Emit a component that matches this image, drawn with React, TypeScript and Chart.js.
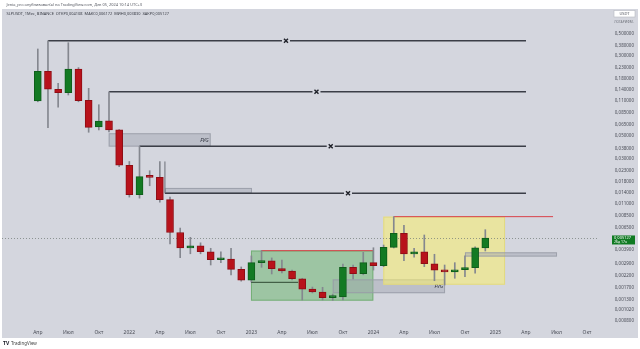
import React, { useEffect, useRef } from "react";
import { Chart, registerables } from "chart.js";

Chart.register(...registerables);

// ---- DATA ----
const monthLabels = [
  "Апр 2021", "Май 2021", "Июн 2021", "Июл 2021", "Авг 2021", "Сен 2021", "Окт 2021", "Ноя 2021", "Дек 2021",
  "Янв 2022", "Фев 2022", "Мар 2022", "Апр 2022", "Май 2022", "Июн 2022", "Июл 2022", "Авг 2022", "Сен 2022",
  "Окт 2022", "Ноя 2022", "Дек 2022", "Янв 2023", "Фев 2023", "Мар 2023", "Апр 2023", "Май 2023", "Июн 2023",
  "Июл 2023", "Авг 2023", "Сен 2023", "Окт 2023", "Ноя 2023", "Дек 2023", "Янв 2024", "Фев 2024", "Мар 2024",
  "Апр 2024", "Май 2024", "Июн 2024", "Июл 2024", "Авг 2024", "Сен 2024", "Окт 2024", "Ноя 2024", "Дек 2024",
];

const openP = [
  0.110, 0.214, 0.143, 0.1323, 0.2249, 0.1117, 0.0614, 0.0707, 0.0575,
  0.0261, 0.0135, 0.0202, 0.0199, 0.0121, 0.0058, 0.0041, 0.00429, 0.00377,
  0.00315, 0.0032, 0.00254, 0.00199, 0.00295, 0.00308, 0.00258, 0.00245, 0.00206,
  0.00163, 0.00153, 0.00135, 0.00137, 0.00266, 0.0023, 0.00295, 0.00276, 0.00416,
  0.00569, 0.00358, 0.00375, 0.00288, 0.0025, 0.0024, 0.00252, 0.00264, 0.004108,
];
const highP = [
  0.352, 0.4236, 0.1633, 0.405, 0.232, 0.146, 0.1011, 0.1353, 0.058,
  0.0284, 0.0399, 0.0231, 0.0284, 0.0128, 0.0064, 0.0052, 0.0046, 0.00407,
  0.00377, 0.00407, 0.00268, 0.00343, 0.00386, 0.00328, 0.00313, 0.0025, 0.00208,
  0.00171, 0.0017, 0.00146, 0.00286, 0.0028, 0.00372, 0.00412, 0.00438, 0.00826,
  0.0068, 0.00407, 0.00548, 0.00356, 0.0028, 0.00295, 0.00343, 0.0042, 0.006172,
];
const lowP = [
  0.108, 0.0605, 0.0955, 0.1257, 0.108, 0.0546, 0.0575, 0.055, 0.0253,
  0.0128, 0.0125, 0.0165, 0.0114, 0.0045, 0.0033, 0.0036, 0.0036, 0.0028,
  0.00295, 0.00224, 0.00195, 0.00192, 0.00266, 0.00229, 0.00235, 0.002, 0.00128,
  0.0015, 0.00128, 0.00127, 0.00128, 0.00205, 0.00225, 0.0025, 0.0027, 0.0041,
  0.00308, 0.00333, 0.0027, 0.00197, 0.00179, 0.00208, 0.00216, 0.00233, 0.00383,
];
const closeP = [
  0.214, 0.143, 0.1323, 0.2249, 0.1107, 0.061, 0.0702, 0.0575, 0.0262,
  0.0135, 0.0202, 0.0199, 0.0121, 0.0058, 0.0041, 0.00429, 0.00377, 0.00315,
  0.0032, 0.00254, 0.00199, 0.00295, 0.00308, 0.00258, 0.00245, 0.00206, 0.00163,
  0.00153, 0.00135, 0.00137, 0.00266, 0.0023, 0.00295, 0.00276, 0.00416, 0.00569,
  0.00358, 0.00375, 0.00288, 0.0025, 0.0024, 0.00252, 0.00264, 0.004108, 0.005127,
];

const yTickValues = [
  0.5, 0.38, 0.3, 0.23, 0.18, 0.14, 0.11, 0.085, 0.065, 0.05, 0.038, 0.03, 0.023, 0.018,
  0.014, 0.011, 0.0085, 0.0065, 0.0039, 0.0029, 0.0022, 0.0017, 0.0013, 0.00102, 0.0008,
];
const xTickMonths = [0, 3, 6, 9, 12, 15, 18, 21, 24, 27, 30, 33, 36, 39, 42, 45, 48, 51, 54];
const xTickLabels = [
  "Апр", "Июл", "Окт", "2022", "Апр", "Июл", "Окт", "2023", "Апр", "Июл", "Окт", "2024",
  "Апр", "Июл", "Окт", "2025", "Апр", "Июл", "Окт",
];

// horizontal levels (price, start month, cross month)
const levelPrices = [0.4236, 0.1353, 0.0399, 0.01393];
const levelStart = [1, 7, 10, 12.5];
const levelEnd = [48, 48, 48, 48];
const levelCross = [24.4, 27.4, 28.8, 30.5];

// zones
const zoneFrom = [6.97, 12.5, 20.96, 29.0, 33.97, 42.0];
const zoneTo = [17.0, 21.06, 32.99, 40.04, 45.94, 51.05];
const zoneTop = [0.0534, 0.0157, 0.00387, 0.00203, 0.00826, 0.00372];
const zoneBottom = [0.0396, 0.01393, 0.00126, 0.00149, 0.0018, 0.00338];
const zoneText = ["FVG", "", "", "FVG", "", ""];

// red lines on top of zones
const redLineFrom = [21.96, 35];
const redLineTo = [32.99, 50.66];
const redLinePrice = [0.00386, 0.00826];

// dark line inside range box
const darkLineFrom = [20.96];
const darkLineTo = [25.6];
const darkLinePrice = [0.0019];

const lastPrice = 0.005127;

// ---- STYLES ----
const BG = "#d4d6de";
const GREEN = "#137a23";
const GREEN_B = "#0e5e1a";
const RED = "#b8121b";
const RED_B = "#8f0d14";
const WICK = "#84878f";
const zoneFill = [
  "rgba(160,164,175,0.45)",
  "rgba(160,164,175,0.45)",
  "rgba(80,175,80,0.42)",
  "rgba(160,164,175,0.45)",
  "rgba(250,240,110,0.55)",
  "rgba(160,164,175,0.45)",
];
const zoneStroke = [
  "rgba(150,154,165,0.8)",
  "rgba(150,154,165,0.8)",
  "rgba(90,160,90,0.6)",
  "rgba(150,154,165,0.8)",
  "rgba(225,215,120,0.8)",
  "rgba(150,154,165,0.8)",
];

const FONT = "'Noto Sans', 'Liberation Sans', sans-serif";

function fitText(ctx: CanvasRenderingContext2D, text: string, x: number, y: number, w: number, color: string, weight = "normal") {
  ctx.font = `${weight} 10px ${FONT}`;
  const mw = ctx.measureText(text).width;
  const size = (10 * w) / mw;
  ctx.font = `${weight} ${size}px ${FONT}`;
  ctx.fillStyle = color;
  ctx.textAlign = "left";
  ctx.textBaseline = "middle";
  ctx.fillText(text, x, y);
}

const fmt = (v: number) => v.toFixed(6).replace(".", ",");

const overlay = {
  id: "overlay",
  beforeDraw(chart: any) {
    const ctx = chart.ctx as CanvasRenderingContext2D;
    ctx.save();
    ctx.fillStyle = "#ffffff";
    ctx.fillRect(0, 0, chart.width, chart.height);
    ctx.fillStyle = BG;
    ctx.fillRect(2, 9, 636, 329);
    ctx.restore();
  },
  beforeDatasetsDraw(chart: any) {
    const ctx = chart.ctx as CanvasRenderingContext2D;
    const xs = chart.scales.x;
    const ys = chart.scales.y;
    const px = (m: number) => xs.getPixelForValue(m);
    const py = (p: number) => ys.getPixelForValue(p);
    ctx.save();
    // zones
    zoneFrom.forEach((f, i) => {
      const x0 = px(f), x1 = px(zoneTo[i]);
      const y0 = py(zoneTop[i]), y1 = py(zoneBottom[i]);
      ctx.fillStyle = zoneFill[i];
      ctx.fillRect(x0, y0, x1 - x0, y1 - y0);
      ctx.strokeStyle = zoneStroke[i];
      ctx.lineWidth = 1;
      ctx.strokeRect(x0 + 0.5, y0 + 0.5, x1 - x0 - 1, y1 - y0 - 1);
      if (zoneText[i]) {
        ctx.font = `italic 5px ${FONT}`;
        ctx.fillStyle = "#2a2e39";
        ctx.textAlign = "right";
        ctx.textBaseline = "middle";
        ctx.fillText(zoneText[i], x1 - 2, (y0 + y1) / 2 + 0.5);
      }
    });
    // dotted last price line
    ctx.strokeStyle = "rgba(110,120,115,0.7)";
    ctx.setLineDash([1, 2]);
    ctx.lineWidth = 1;
    const yl = Math.round(py(lastPrice)) + 0.5;
    ctx.beginPath();
    ctx.moveTo(2, yl);
    ctx.lineTo(chart.chartArea.right, yl);
    ctx.stroke();
    ctx.setLineDash([]);
    // level lines
    levelPrices.forEach((p, i) => {
      const y = py(p);
      const x0 = px(levelStart[i]);
      ctx.strokeStyle = "#3b3e47";
      ctx.lineWidth = 1.5;
      ctx.beginPath();
      ctx.moveTo(x0, y);
      ctx.lineTo(px(levelEnd[i]), y);
      ctx.stroke();
      ctx.lineWidth = 1;
      ctx.strokeStyle = "#6a6d76";
      ctx.beginPath();
      ctx.moveTo(x0, y);
      ctx.lineTo(x0, py(highP[Math.floor(levelStart[i])]));
      ctx.stroke();
    });
    // red lines
    ctx.strokeStyle = "#d9434a";
    ctx.lineWidth = 1;
    redLinePrice.forEach((p, i) => {
      const y = py(p);
      ctx.beginPath();
      ctx.moveTo(px(redLineFrom[i]), y);
      ctx.lineTo(px(redLineTo[i]), y);
      ctx.stroke();
    });
    ctx.strokeStyle = "#2f4a33";
    darkLinePrice.forEach((p, i) => {
      const y = py(p);
      ctx.beginPath();
      ctx.moveTo(px(darkLineFrom[i]), y);
      ctx.lineTo(px(darkLineTo[i]), y);
      ctx.stroke();
    });
    ctx.restore();
  },
  afterDatasetsDraw(chart: any) {
    const ctx = chart.ctx as CanvasRenderingContext2D;
    const xs = chart.scales.x;
    const ys = chart.scales.y;
    ctx.save();
    // crosses
    levelPrices.forEach((p, i) => {
      const x = xs.getPixelForValue(levelCross[i]);
      const y = ys.getPixelForValue(p);
      ctx.fillStyle = BG;
      ctx.fillRect(x - 4, y - 3, 8, 6);
      ctx.strokeStyle = "#1e2028";
      ctx.lineWidth = 1.4;
      ctx.beginPath();
      ctx.moveTo(x - 2, y - 2);
      ctx.lineTo(x + 2, y + 2);
      ctx.moveTo(x + 2, y - 2);
      ctx.lineTo(x - 2, y + 2);
      ctx.stroke();
    });
    // last price label
    const yl = ys.getPixelForValue(lastPrice);
    ctx.fillStyle = "#0f7a22";
    ctx.fillRect(612, yl - 2.5, 23, 9);
    ctx.fillStyle = "#ffffff";
    ctx.textAlign = "left";
    ctx.textBaseline = "middle";
    ctx.font = `4px ${FONT}`;
    ctx.fillText(fmt(lastPrice), 614, yl);
    ctx.font = `3.5px ${FONT}`;
    ctx.fillText("26д 17ч", 614, yl + 4);
    ctx.restore();
  },
  afterDraw(chart: any) {
    const ctx = chart.ctx as CanvasRenderingContext2D;
    ctx.save();
    fitText(ctx, "Jenia_pro опубликовал(а) на TradingView.com, Дек 05, 2024 10:14 UTC+3", 6.5, 4.8, 136, "#555861");
    fitText(ctx, "SLPUSDT, 1Мес, BINANCE  ОТКР0,004108  МАКС0,006172  МИН0,003830  ЗАКР0,005127", 6.5, 14.3, 163, "#3a3d46");
    // USDT box
    ctx.fillStyle = "#ffffff";
    ctx.fillRect(614, 10.5, 21, 6.5);
    ctx.strokeStyle = "#b5b8c0";
    ctx.lineWidth = 0.6;
    ctx.strokeRect(614, 10.5, 21, 6.5);
    ctx.fillStyle = "#555861";
    ctx.font = `4px ${FONT}`;
    ctx.textAlign = "center";
    ctx.textBaseline = "middle";
    ctx.fillText("USDT", 624.5, 13.9);
    ctx.fillStyle = "#70737c";
    ctx.font = `3.3px ${FONT}`;
    ctx.fillText("ЛОГАРИФМ.", 624, 22);
    // TradingView logo
    ctx.fillStyle = "#131722";
    ctx.font = `bold 5px ${FONT}`;
    ctx.textAlign = "left";
    ctx.fillText("TV", 3, 344);
    ctx.font = `4.5px ${FONT}`;
    ctx.fillStyle = "#444";
    ctx.fillText("TradingView", 11, 344);
    ctx.restore();
  },
};

export default function App() {
  const ref = useRef<HTMLCanvasElement>(null);
  useEffect(() => {
    document.body.style.margin = "0";
    const canvas = ref.current!;
    const idx = openP.map((_, i) => i);
    const up = idx.map((i) => closeP[i] >= openP[i]);
    const chart = new Chart(canvas, {
      type: "bar",
      data: {
        datasets: [
          {
            label: "wick",
            data: idx.map((i) => ({ x: i, y: [lowP[i], highP[i]] })) as any,
            backgroundColor: WICK,
            barThickness: 1,
            grouped: false,
            order: 2,
          } as any,
          {
            label: "SLPUSDT",
            data: idx.map((i) => ({ x: i, y: [openP[i], closeP[i]], month: monthLabels[i] })) as any,
            backgroundColor: idx.map((i) => (up[i] ? GREEN : RED)),
            borderColor: idx.map((i) => (up[i] ? GREEN_B : RED_B)),
            borderWidth: 1,
            borderSkipped: false,
            barThickness: 7,
            minBarLength: 2,
            grouped: false,
            order: 1,
          } as any,
        ],
      },
      options: {
        animation: false,
        responsive: false,
        maintainAspectRatio: false,
        layout: { padding: { left: 2, right: 6, top: 12, bottom: 11 } },
        plugins: { legend: { display: false }, tooltip: { enabled: false } },
        scales: {
          x: {
            type: "linear",
            min: -3.52,
            max: 55.08,
            offset: false,
            grid: { display: false, drawTicks: false },
            border: { display: false },
            ticks: {
              autoSkip: false,
              maxRotation: 0,
              padding: 4,
              color: "#4a4d57",
              font: { size: 5, family: FONT },
              callback: (v: any, i: number) => xTickLabels[i] ?? "",
            },
            afterBuildTicks: (s: any) => {
              s.ticks = xTickMonths.map((v) => ({ value: v }));
            },
            afterFit: (s: any) => {
              s.height = 12;
            },
          },
          y: {
            type: "logarithmic",
            position: "right",
            min: 0.000715,
            max: 0.8053,
            bounds: "data",
            grid: { display: false, drawTicks: false },
            border: { display: false },
            ticks: {
              autoSkip: false,
              crossAlign: "far",
              padding: 2,
              color: "#4a4d57",
              font: { size: 4.5, family: FONT },
              callback: (v: any) => fmt(Number(v)),
            },
            afterBuildTicks: (s: any) => {
              s.ticks = yTickValues.map((v) => ({ value: v }));
            },
            afterFit: (s: any) => {
              s.width = 36;
            },
          },
        },
      } as any,
      plugins: [overlay],
    });
    return () => chart.destroy();
  }, []);
  return (
    <div style={{ position: "absolute", left: 0, top: 0, width: 640, height: 349 }}>
      <canvas ref={ref} width={640} height={349} style={{ display: "block", width: 640, height: 349 }} />
    </div>
  );
}
